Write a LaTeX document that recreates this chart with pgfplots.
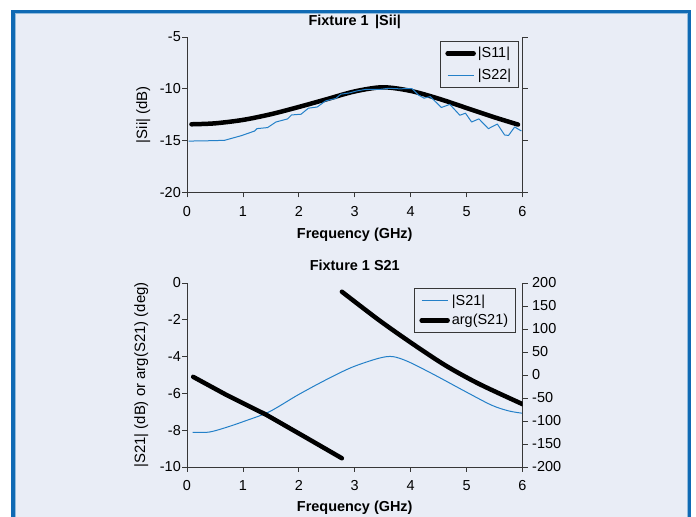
\documentclass[border=0pt]{standalone}
\usepackage{pgfplots}
\pgfplotsset{compat=1.18}
\usepackage{fontspec}
\setmainfont{Liberation Sans}
\definecolor{bg}{RGB}{233,237,246}
\definecolor{frameblue}{RGB}{16,106,180}
\definecolor{lineblue}{RGB}{36,128,200}
\definecolor{axgray}{RGB}{55,55,55}
\pgfplotsset{
  common/.style={
    scale only axis, width=335.5bp,
    xmin=0, xmax=6, xtick={0,1,2,3,4,5,6}, xticklabels={0,1,2,3,4,5,6},
    tick align=outside, major tick length=5bp,
    axis line style={axgray, line width=0.8bp},
    every tick/.style={axgray, line width=0.8bp},
    tick label style={font=\fontsize{14.5}{14.5}\selectfont},
    xticklabel style={anchor=base, yshift=-19bp},
    yticklabel style={inner xsep=1bp},
    label style={font=\bfseries\fontsize{14.5}{14.5}\selectfont},
    every axis title shift=0pt,
    title style={font=\bfseries\fontsize{14.5}{14.5}\selectfont},
    legend image code/.code={\draw[#1] (0bp,0bp) -- (26bp,0bp);},
    legend cell align=left,
  },
  thin line/.style={lineblue, line width=1bp, line join=round},
  thick line/.style={black, line width=4.5bp, line cap=round, line join=round},
}
\begin{document}
\begin{tikzpicture}[x=1bp,y=1bp]
\path[use as bounding box] (0,0) rectangle (696,517);
\fill[white] (0,0) rectangle (696,517);
\fill[frameblue] (11,0) rectangle (691,507);
\fill[frameblue!45!white] (14.5,0) rectangle (687.5,503.5);
\fill[bg] (15.5,0) rectangle (686.5,502.5);

% ---------- Plot 1 ----------
\begin{axis}[common, at={(187bp,324.5bp)}, anchor=south west, height=155.5bp,
  axis x line*=bottom, axis y line*=left,
  ymin=-20, ymax=-5, ytick={-20,-15,-10,-5}, yticklabels={-20,-15,-10,-5},
  title={Fixture 1 \,|Sii|},
  title style={at={(axis description cs:0.5,1)}, anchor=base, yshift=11.5bp},
  xlabel={Frequency (GHz)},
  xlabel style={at={(axis description cs:0.5,0)}, anchor=base, yshift=-46bp},
  ylabel={|Sii| (dB)},
  ylabel style={at={(axis description cs:-0.1192,0.5)}, anchor=base, font=\fontsize{15}{15}\selectfont},
  legend style={at={(1,1)}, anchor=north east, xshift=-4bp, yshift=-4bp,
    draw=axgray, line width=0.8bp, fill=bg, inner xsep=5bp, inner ysep=4bp,
    font=\fontsize{14.5}{14.5}\selectfont, row sep=6bp,
    nodes={inner sep=2bp}},
]
\addplot[thick line, smooth] coordinates {
(0.08,-13.42) (0.5,-13.33) (1.0,-13.0) (1.5,-12.45) (2.0,-11.75) (2.5,-11.0)
(3.0,-10.25) (3.5,-9.85) (4.0,-10.2) (4.5,-10.95) (5.0,-11.85) (5.5,-12.75) (5.92,-13.45)};
\addlegendentry{|S11|}
\addplot[thin line] coordinates {
(0.03,-15.04) (0.3,-15.02) (0.67,-14.97) (0.97,-14.52) (1.21,-14.07) (1.25,-13.84)
(1.44,-13.74) (1.59,-13.2) (1.80,-12.9) (1.87,-12.52) (2.04,-12.45) (2.17,-11.87)
(2.33,-11.75) (2.48,-11.16) (2.66,-10.93) (2.75,-10.52) (2.9,-10.4) (3.04,-10.2)
(3.2,-10.05) (3.46,-10.05) (3.6,-9.95) (3.8,-10.0) (4.02,-9.97) (4.14,-10.6)
(4.24,-10.9) (4.35,-10.75) (4.55,-11.8) (4.70,-11.5) (4.88,-12.55) (4.98,-12.35)
(5.09,-13.2) (5.22,-12.9) (5.39,-13.84) (5.55,-13.4) (5.68,-14.45) (5.75,-14.5)
(5.86,-13.68) (5.98,-14.07)};
\addlegendentry{|S22|}
\end{axis}
\begin{axis}[common, at={(187bp,324.5bp)}, anchor=south west, height=155.5bp,
  axis x line=none, axis y line*=right,
  ymin=-20, ymax=-5, ytick={-20,-15,-10,-5}, yticklabels={}]
\addplot[draw=none] coordinates {(1,-10)};
\end{axis}

% ---------- Plot 2 ----------
\begin{axis}[common, at={(187bp,50bp)}, anchor=south west, height=184bp,
  axis x line*=bottom, axis y line*=left,
  ymin=-10, ymax=0, ytick={-10,-8,-6,-4,-2,0}, yticklabels={-10,-8,-6,-4,-2,0},
  title={Fixture 1 S21},
  title style={at={(axis description cs:0.5,1)}, anchor=base, yshift=12.5bp},
  xlabel={Frequency (GHz)},
  xlabel style={at={(axis description cs:0.5,0)}, anchor=base, yshift=-44.7bp},
  ylabel={|S21| (dB) or arg(S21) (deg)},
  ylabel style={at={(axis description cs:-0.1252,0.5)}, anchor=base, font=\fontsize{15}{15}\selectfont},
]
\addplot[thin line, smooth] coordinates {
(0.1,-8.12) (0.4,-8.1) (0.7,-7.85) (1.0,-7.54) (1.47,-7.0) (1.98,-6.09) (2.48,-5.27)
(2.95,-4.58) (3.43,-4.09) (3.68,-4.0) (3.96,-4.28) (4.43,-5.0) (4.93,-5.82)
(5.44,-6.63) (5.75,-6.95) (6.0,-7.08)};
\end{axis}
\begin{axis}[common, at={(187bp,50bp)}, anchor=south west, height=184bp,
  axis x line=none, axis y line*=right,
  ymin=-200, ymax=200, ytick={-200,-150,-100,-50,0,50,100,150,200},
  yticklabels={-200,-150,-100,-50,0,50,100,150,200},
  yticklabel style={anchor=west, inner xsep=4.5bp},
  legend style={at={(1,1)}, anchor=north east, xshift=-7bp, yshift=-5bp,
    draw=axgray, line width=0.8bp, fill=bg, inner xsep=5bp, inner ysep=4.5bp,
    font=\fontsize{14.5}{14.5}\selectfont, row sep=3.5bp,
    nodes={inner sep=2bp}},
]
\addlegendimage{thin line}
\addlegendentry{|S21|}
\addplot[thick line] coordinates {
(0.11,-4) (0.7,-43) (1.41,-86) (2.1,-134) (2.77,-181)};
\addlegendentry{arg(S21)}
\addplot[thick line, smooth, forget plot] coordinates {
(2.77,181) (3.43,119.6) (4.02,69) (4.61,21.7) (5.2,-18) (5.94,-60) (6.0,-63)};
\end{axis}
\end{tikzpicture}
\end{document}
